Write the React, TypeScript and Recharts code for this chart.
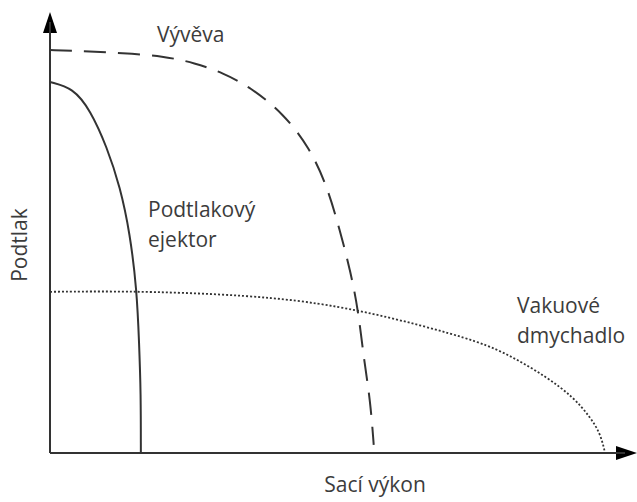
import React from 'react';
import { LineChart, Line, XAxis, YAxis } from 'recharts';

// curve points (x = suction output, y = vacuum), 0..100 scale
const vyvevaX = [0, 5.2, 12.7, 19.7, 25.2, 30.1, 34.8, 40.5, 45.2, 48.3, 50.4, 52.2, 53.6, 54.6, 55.7, 56.3];
const vyvevaY = [93.5, 93.3, 92.8, 92.1, 90.5, 88.2, 84.9, 78.9, 70.8, 61.5, 51.7, 42.5, 33.2, 21.6, 12.3, 1.9];

const ejektorX = [0, 4.0, 7.0, 9.9, 12.2, 13.9, 15.1, 15.5, 15.8, 15.8];
const ejektorY = [86.1, 84.7, 79.6, 71.0, 61.7, 51.0, 37.8, 25.5, 13.9, 0];

const dmychadloX = [0, 17.4, 40.0, 53.6, 64.3, 74.8, 80.5, 86.4, 91.0, 93.9, 95.7, 96.5];
const dmychadloY = [37.4, 37.6, 36.2, 33.2, 29.7, 25.8, 22.3, 17.6, 13.0, 8.4, 4.6, 0.2];

const toPoints = (xs: number[], ys: number[]) => xs.map((x, i) => ({ x, y: ys[i] }));

const vyveva = toPoints(vyvevaX, vyvevaY);
const ejektor = toPoints(ejektorX, ejektorY);
const dmychadlo = toPoints(dmychadloX, dmychadloY);

const ink = '#333333';
const font = { fontFamily: '"Open Sans", sans-serif', fontSize: 21, fill: '#3c3c3c' };

const App: React.FC = () => {
  return (
    <div style={{ position: 'absolute', left: 0, top: 0, background: '#fff' }}>
      <LineChart width={637} height={502} margin={{ top: 22, right: 12, bottom: 0, left: 0 }}>
        <XAxis
          type="number"
          dataKey="x"
          domain={[0, 100]}
          height={49}
          tick={false}
          tickLine={false}
          axisLine={{ stroke: ink, strokeWidth: 2 }}
        />
        <YAxis
          type="number"
          dataKey="y"
          domain={[0, 100]}
          width={50}
          tick={false}
          tickLine={false}
          axisLine={{ stroke: ink, strokeWidth: 2 }}
        />
        <Line data={vyveva} dataKey="y" type="basis" stroke={ink} strokeWidth={2}
          strokeDasharray="22 12" dot={false} isAnimationActive={false} />
        <Line data={ejektor} dataKey="y" type="basis" stroke={ink} strokeWidth={2}
          dot={false} isAnimationActive={false} />
        <Line data={dmychadlo} dataKey="y" type="basis" stroke={ink} strokeWidth={1.8}
          strokeDasharray="2 2" dot={false} isAnimationActive={false} />

        {/* axis arrowheads */}
        <line x1={50} y1={22} x2={50} y2={30} stroke={ink} strokeWidth={2} />
        <polygon points="50,12 43,33 57,33" fill="#000" />
        <polygon points="637,453 616,446 616,460" fill="#000" />

        <text x={157} y={42} {...font}>Vývěva</text>
        <text x={148} y={217} {...font}>Podtlakový</text>
        <text x={148} y={247} {...font}>ejektor</text>
        <text x={517} y={313} {...font}>Vakuové</text>
        <text x={517} y={343} {...font}>dmychadlo</text>
        <text x={375} y={492} textAnchor="middle" {...font}>Sací výkon</text>
        <text x={27} y={245} textAnchor="middle" transform="rotate(-90 27 245)" {...font}>Podtlak</text>
      </LineChart>
    </div>
  );
};

export default App;
